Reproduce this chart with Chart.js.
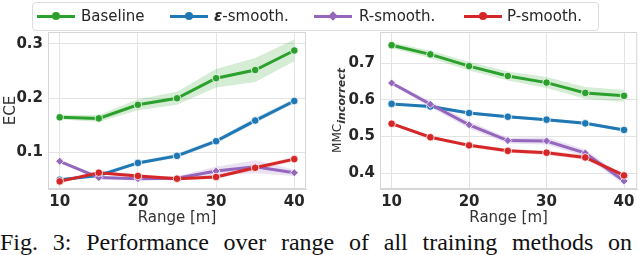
<!DOCTYPE html>
<html>
<head>
<meta charset="utf-8">
<script src="https://cdn.jsdelivr.net/npm/chart.js@4"></script>
<style>
  html, body { margin: 0; padding: 0; background: #fff; overflow: hidden; }
  body { width: 640px; height: 255px; position: relative; }
  .panel { position: absolute; top: 0; height: 228px; }
  #legend {
    position: absolute; left: 32px; top: 2px; width: 565px; height: 27px;
    border: 1px solid #dcdcdc; border-radius: 4px; background: rgba(255,255,255,0.85);
    font-family: "DejaVu Sans", sans-serif; font-size: 15px; color: #262626; z-index: 2;
  }
  .item { position: absolute; top: 0; height: 27px; }
  .swatch { position: absolute; top: 12px; width: 38px; height: 3px; }
  .swatch i { position: absolute; left: 15px; top: -3px; width: 8px; height: 8px; border-radius: 50%; }
  .label { position: absolute; top: 4px; white-space: nowrap; }
  #caption {
    position: absolute; left: 0; top: 229px; width: 632px;
    font-family: "Liberation Serif", serif; font-size: 24px; color: #111;
    text-align: justify; text-align-last: justify; white-space: nowrap;
  }
</style>
</head>
<body>
<div id="legend"></div>
<div class="panel" style="left:0;width:316px"><canvas id="ece" width="316" height="228"></canvas></div>
<div class="panel" style="left:320px;width:322px"><canvas id="mmc" width="322" height="228"></canvas></div>
<div id="caption">Fig. 3: Performance over range of all training methods on</div>
<script>
const ranges = [10, 15, 20, 25, 30, 35, 40];
const methods = ['Baseline', 'ε-smooth.', 'R-smooth.', 'P-smooth.'];
const colors = ['#2ca02c', '#1f77b4', '#9467bd', '#d62728'];
const bandColors = ['rgba(44,160,44,0.2)', 'rgba(31,119,180,0.2)', 'rgba(148,103,189,0.2)', 'rgba(214,39,40,0.2)'];
const markers = ['circle', 'circle', 'rectRot', 'circle'];

// ECE per method
const eceBaseline = [0.165, 0.163, 0.188, 0.200, 0.237, 0.252, 0.288];
const eceEps      = [0.050, 0.058, 0.081, 0.094, 0.121, 0.159, 0.195];
const eceR        = [0.084, 0.054, 0.052, 0.053, 0.066, 0.074, 0.063];
const eceP        = [0.047, 0.063, 0.057, 0.052, 0.055, 0.072, 0.088];
// half width of the shaded band
const eceBaselineBand = [0.004, 0.006, 0.010, 0.012, 0.017, 0.022, 0.020];
const eceEpsBand      = [0.002, 0.003, 0.003, 0.004, 0.004, 0.005, 0.004];
const eceRBand        = [0.003, 0.003, 0.003, 0.004, 0.008, 0.012, 0.006];
const ecePBand        = [0.002, 0.003, 0.003, 0.003, 0.003, 0.004, 0.004];

// MMC (incorrect) per method
const mmcBaseline = [0.749, 0.724, 0.692, 0.665, 0.647, 0.619, 0.611];
const mmcEps      = [0.589, 0.582, 0.564, 0.554, 0.546, 0.536, 0.518];
const mmcR        = [0.646, 0.588, 0.532, 0.489, 0.488, 0.455, 0.379];
const mmcP        = [0.535, 0.498, 0.476, 0.461, 0.456, 0.443, 0.394];
const mmcBaselineBand = [0.008, 0.010, 0.012, 0.012, 0.015, 0.016, 0.016];
const mmcEpsBand      = [0.003, 0.004, 0.004, 0.004, 0.004, 0.004, 0.004];
const mmcRBand        = [0.005, 0.008, 0.010, 0.008, 0.010, 0.010, 0.010];
const mmcPBand        = [0.004, 0.004, 0.005, 0.005, 0.006, 0.006, 0.006];

const xTicks = [10, 20, 30, 40];
const eceTicks = [0.1, 0.2, 0.3];
const mmcTicks = [0.4, 0.5, 0.6, 0.7];

const tickFont = { family: 'DejaVu Sans', size: 15, weight: 'bold' };
const titleFont = { family: 'DejaVu Sans', size: 15 };
const textColor = '#262626';
const gridColor = '#e3e3e3';

// legend
const legendPos = [[4, 48], [137, 181], [281, 326], [431, 474]];
const legend = document.getElementById('legend');
methods.forEach((m, i) => {
  const item = document.createElement('div');
  item.className = 'item';
  item.style.left = legendPos[i][0] + 'px';
  const shape = markers[i] === 'rectRot' ? 'border-radius:1px;transform:rotate(45deg) scale(0.85);' : '';
  const name = i === 1 ? '<b><i>ε</i></b>-smooth.' : m;
  item.innerHTML = `
    <span class="swatch" style="background:${colors[i]}"><i style="background:${colors[i]};${shape}"></i></span>
    <span class="label" style="left:${legendPos[i][1] - legendPos[i][0]}px">${name}</span>`;
  legend.appendChild(item);
});

function buildDatasets(series, bands) {
  const out = [];
  series.forEach((vals, i) => {
    out.push({
      data: ranges.map((x, k) => ({ x, y: vals[k] + bands[i][k] })),
      borderWidth: 0, pointRadius: 0, fill: '+1',
      backgroundColor: bandColors[i], order: 10 + i
    });
    out.push({
      data: ranges.map((x, k) => ({ x, y: vals[k] - bands[i][k] })),
      borderWidth: 0, pointRadius: 0, fill: false, order: 10 + i
    });
  });
  series.forEach((vals, i) => {
    out.push({
      label: methods[i],
      data: ranges.map((x, k) => ({ x, y: vals[k] })),
      borderColor: colors[i], backgroundColor: colors[i], borderWidth: 3,
      pointStyle: markers[i], pointRadius: markers[i] === 'rectRot' ? 4 : 3.8,
      pointBorderColor: '#fff', pointBorderWidth: 0.8, fill: false, order: 4 - i
    });
  });
  return out;
}

function fixedTicks(values) {
  return axis => { axis.ticks = values.map(v => ({ value: v })); };
}

function makeChart(id, series, bands, yMin, yMax, yTickVals, xMax, yWidth, yTitle, padRight, plugins) {
  return new Chart(document.getElementById(id), {
    type: 'line',
    data: { datasets: buildDatasets(series, bands) },
    options: {
      responsive: false, animation: false,
      layout: { padding: { top: 32, left: 0, right: padRight, bottom: 0 } },
      plugins: { legend: { display: false }, tooltip: { enabled: false } },
      scales: {
        x: {
          type: 'linear', min: 8.5, max: xMax,
          afterBuildTicks: fixedTicks(xTicks),
          afterFit: s => { s.height = 39; },
          grid: { color: gridColor, drawTicks: false },
          border: { color: '#d6d6d6' },
          ticks: { font: tickFont, color: textColor, padding: 4 },
          title: { display: true, text: 'Range [m]', font: titleFont, color: '#333', padding: { top: 0, bottom: 1 } }
        },
        y: {
          min: yMin, max: yMax,
          afterBuildTicks: fixedTicks(yTickVals),
          afterFit: s => { s.width = yWidth; },
          grid: { color: gridColor, drawTicks: false },
          border: { color: '#d6d6d6' },
          ticks: { font: tickFont, color: textColor, padding: 5, callback: v => v.toFixed(1) },
          title: { display: !!yTitle, text: yTitle, font: titleFont, color: '#333', padding: { top: 2, bottom: 0 } }
        }
      }
    },
    plugins: plugins || []
  });
}

const frame = {
  id: 'frame',
  afterDatasetsDraw(chart) {
    const a = chart.chartArea, ctx = chart.ctx;
    ctx.save();
    ctx.strokeStyle = '#d6d6d6';
    ctx.lineWidth = 1;
    ctx.strokeRect(a.left + 0.5, a.top + 0.5, a.right - a.left - 1, a.bottom - a.top - 1);
    ctx.restore();
  }
};

const mmcTitle = {
  id: 'mmcTitle',
  afterDraw(chart) {
    const ctx = chart.ctx;
    const cy = (chart.chartArea.top + chart.chartArea.bottom) / 2;
    ctx.save();
    ctx.translate(18, cy);
    ctx.rotate(-Math.PI / 2);
    ctx.fillStyle = '#333';
    ctx.textBaseline = 'middle';
    ctx.textAlign = 'left';
    const mainFont = '12px "DejaVu Sans"';
    const subFont = 'italic bold 11px "DejaVu Sans"';
    ctx.font = mainFont;
    const w1 = ctx.measureText('MMC').width;
    ctx.font = subFont;
    const w2 = ctx.measureText('incorrect').width;
    const x0 = -(w1 + w2) / 2;
    ctx.font = mainFont;
    ctx.fillText('MMC', x0, 0);
    ctx.font = subFont;
    ctx.fillText('incorrect', x0 + w1, 4);
    ctx.restore();
  }
};

makeChart('ece', [eceBaseline, eceEps, eceR, eceP],
  [eceBaselineBand, eceEpsBand, eceRBand, ecePBand],
  0.033, 0.322, eceTicks, 41.5, 48, 'ECE', 10, [frame]);

makeChart('mmc', [mmcBaseline, mmcEps, mmcR, mmcP],
  [mmcBaselineBand, mmcEpsBand, mmcRBand, mmcPBand],
  0.357, 0.785, mmcTicks, 41.7, 60, '', 0, [frame, mmcTitle]);
</script>
</body>
</html>
